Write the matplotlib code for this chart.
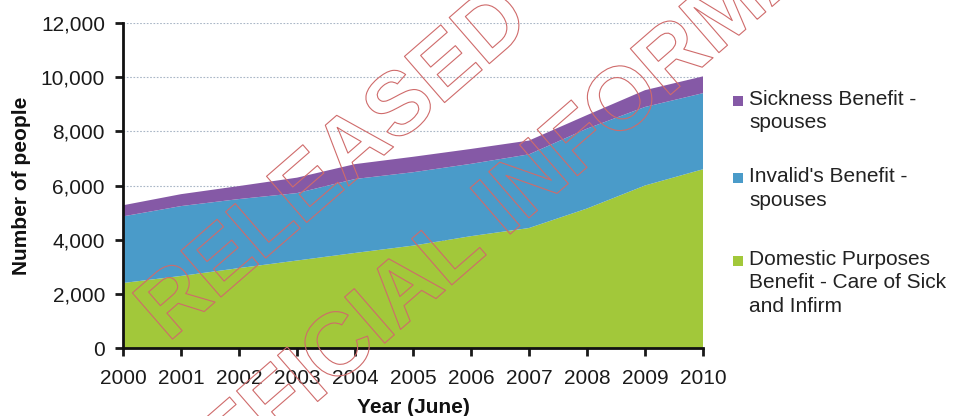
import matplotlib
matplotlib.use("Agg")
import matplotlib.pyplot as plt
from matplotlib.patches import Rectangle
from matplotlib.ticker import StrMethodFormatter
import matplotlib.patheffects as pe

plt.rcParams['font.family'] = ['Liberation Sans', 'DejaVu Sans']

# Data: people receiving spouse / carer benefits, June of each year
years = [2000, 2001, 2002, 2003, 2004, 2005, 2006, 2007, 2008, 2009, 2010]
dpb_care = [2400, 2660, 2950, 3230, 3510, 3780, 4130, 4430, 5150, 6000, 6600]
ib_spouses = [2460, 2580, 2550, 2490, 2730, 2710, 2670, 2720, 2950, 2900, 2810]
sb_spouses = [410, 440, 480, 570, 550, 570, 550, 510, 500, 620, 620]

series_labels = [
    "Domestic Purposes\nBenefit - Care of Sick\nand Infirm",
    "Invalid's Benefit -\nspouses",
    "Sickness Benefit -\nspouses",
]
series_colors = ["#a2c83a", "#4a9bc9", "#8559a6"]

y_ticks = [0, 2000, 4000, 6000, 8000, 10000, 12000]

W, H = 957, 416
fig = plt.figure(figsize=(W / 100, H / 100), dpi=100)
ax = fig.add_axes([123 / W, 1 - 348 / H, (703 - 123) / W, (348 - 23) / H])

ax.stackplot(years, dpb_care, ib_spouses, sb_spouses,
             colors=series_colors, linewidth=0)

ax.set_xlim(years[0], years[-1])
ax.set_ylim(y_ticks[0], y_ticks[-1])
ax.set_xticks(years)
ax.set_yticks(y_ticks)
ax.yaxis.set_major_formatter(StrMethodFormatter("{x:,.0f}"))

ax.set_axisbelow(True)
ax.grid(axis="y", linestyle=(0, (1.5, 1.5)), color="#a9b6c6", linewidth=0.8)

for side in ("top", "right"):
    ax.spines[side].set_visible(False)
for side in ("left", "bottom"):
    ax.spines[side].set_linewidth(2.0)
    ax.spines[side].set_color("#111111")

ax.tick_params(axis="both", which="major", labelsize=15, colors="#1a1a1a",
               length=6, width=2.0, direction="out")
ax.tick_params(axis="y", pad=7)
ax.tick_params(axis="x", pad=9)

ax.set_ylabel("Number of people", fontsize=15, fontweight="bold",
              color="#111111", labelpad=7)
ax.set_xlabel("Year (June)", fontsize=15, fontweight="bold",
              color="#111111", labelpad=7)

# Legend: square marker aligned with the first line of each entry
legend_tops = [261, 178, 101]
for label, color, top in zip(series_labels, series_colors, legend_tops):
    fig.patches.append(Rectangle((733 / W, 1 - (top + 5) / H), 10 / W, 10 / H,
                                 transform=fig.transFigure, facecolor=color,
                                 edgecolor="none"))
    fig.text(749 / W, 1 - (top - 11) / H, label, fontsize=15, color="#222222",
             ha="left", va="top", linespacing=1.3)

# Outlined release stamp across the chart
stamp_fx = [pe.Stroke(linewidth=0.8, foreground="#cf6b6b")]
stamp_lines = ["RELEASED UNDER THE", "OFFICIAL INFORMATION ACT"]
stamp_pos = [(168 / W, 1 - 343 / H), (179 / W, 1 - 522 / H)]
for txt, (sx, sy) in zip(stamp_lines, stamp_pos):
    fig.text(sx, sy, txt, fontsize=64, fontweight="bold", rotation=41,
             rotation_mode="anchor", ha="left", va="baseline",
             color=(1, 1, 1, 0), path_effects=stamp_fx, zorder=10)

fig.savefig("out.png", dpi=100, facecolor="white")
